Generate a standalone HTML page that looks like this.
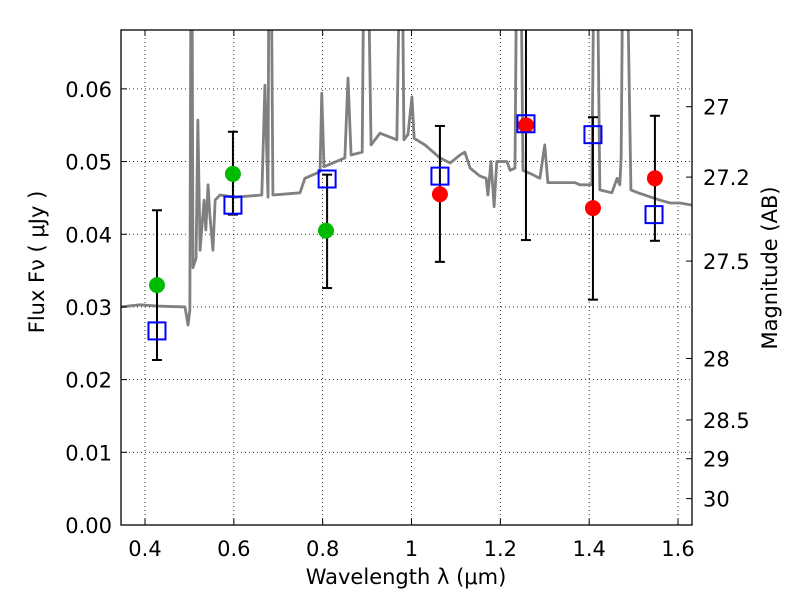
<!DOCTYPE html>
<html><head><meta charset="utf-8"><style>
body{margin:0;background:#fff;}
svg{display:block;font-family:"DejaVu Sans","Liberation Sans",sans-serif;}
</style></head><body>
<svg id="chart" width="800" height="600"></svg>
<script>
const specLam=[0.345,0.389,0.434,0.490,0.497,0.501,0.5036,0.5058,0.508,0.515,0.519,0.524,0.533,0.537,0.542,0.546,0.553,0.558,0.569,0.603,0.663,0.670,0.677,0.679,0.684,0.688,0.749,0.760,0.794,0.798,0.803,0.850,0.857,0.864,0.889,0.893,0.902,0.909,0.929,0.967,0.974,0.979,0.983,0.992,1.001,1.006,1.030,1.064,1.087,1.109,1.120,1.132,1.154,1.168,1.172,1.179,1.186,1.192,1.215,1.222,1.233,1.237,1.246,1.251,1.273,1.282,1.289,1.300,1.307,1.334,1.368,1.379,1.406,1.411,1.418,1.424,1.451,1.463,1.469,1.472,1.476,1.485,1.494,1.510,1.559,1.582,1.604,1.632];
const specFlux=[0.0300,0.0303,0.0301,0.0300,0.0275,0.0296,0.08,0.08,0.0354,0.0367,0.0557,0.0378,0.0447,0.0406,0.0468,0.0427,0.0378,0.0447,0.0454,0.0451,0.0454,0.0605,0.0451,0.08,0.08,0.0454,0.0457,0.0477,0.0486,0.0594,0.0493,0.0505,0.0615,0.0509,0.0513,0.08,0.08,0.0523,0.0539,0.0530,0.08,0.08,0.0530,0.0537,0.0589,0.0532,0.0523,0.0505,0.0498,0.0509,0.0513,0.0491,0.0480,0.0477,0.0454,0.0500,0.0438,0.0500,0.0500,0.0488,0.0491,0.08,0.08,0.0488,0.0482,0.0479,0.0477,0.0523,0.0471,0.0471,0.0471,0.0468,0.0468,0.08,0.08,0.0461,0.0457,0.0477,0.0468,0.0506,0.08,0.08,0.0461,0.0457,0.0447,0.0443,0.0443,0.0440];
const greenLam=[0.427,0.598,0.8075];
const greenFlux=[0.0330,0.0483,0.0405];
const redLam=[1.064,1.2577,1.4085,1.548];
const redFlux=[0.0455,0.0550,0.0436,0.0477];
const boxLam=[0.427,0.598,0.810,1.064,1.2577,1.4085,1.546];
const boxFlux=[0.0267,0.0440,0.0476,0.0480,0.0552,0.0537,0.0427];
const errLam=[0.427,0.598,0.810,1.064,1.2577,1.4085,1.548];
const errLo=[0.0227,0.0427,0.0326,0.0362,0.0392,0.0310,0.0391];
const errHi=[0.0433,0.0541,0.0482,0.0549,0.075,0.0561,0.0563];
const xTicks=[0.4,0.6,0.8,1.0,1.2,1.4,1.6];
const xTickLabels=["0.4","0.6","0.8","1","1.2","1.4","1.6"];
const yTicks=[0,0.01,0.02,0.03,0.04,0.05,0.06];
const yTickLabels=["0.00","0.01","0.02","0.03","0.04","0.05","0.06"];
const magTicks=[27,27.2,27.5,28,28.5,29,30];
const magTickLabels=["27","27.2","27.5","28","28.5","29","30"];

const L=121,R=692,T=30,B=525;
const xMin=0.346,xMax=1.6315,yMin=0,yMax=0.0681;
const sx=v=>L+(v-xMin)/(xMax-xMin)*(R-L);
const sy=v=>B-(v-yMin)/(yMax-yMin)*(B-T);
const magToFlux=m=>Math.pow(10,(23.9-m)/2.5);
const NS="http://www.w3.org/2000/svg";
const svg=document.getElementById('chart');
function mk(tag,attrs,parent){const e=document.createElementNS(NS,tag);for(const k in attrs)e.setAttribute(k,attrs[k]);(parent||svg).appendChild(e);return e;}

const defs=mk('defs',{});
const cp=mk('clipPath',{id:'clip'},defs);
mk('rect',{x:L,y:T,width:R-L,height:B-T},cp);

const grid=mk('g',{});


xTicks.forEach(v=>{mk('line',{x1:sx(v),x2:sx(v),y1:T,y2:B,stroke:'#000','stroke-width':0.8,'stroke-dasharray':'1,3'},grid);});
yTicks.forEach(v=>{if(v>0)mk('line',{x1:L,x2:R,y1:sy(v),y2:sy(v),stroke:'#000','stroke-width':0.8,'stroke-dasharray':'1,3'},grid);});

const g=mk('g',{'clip-path':'url(#clip)'});
const sp=mk('polyline',{points:specLam.map((l,i)=>sx(l)+','+sy(specFlux[i])).join(' '),fill:'none',stroke:'#808080','stroke-width':2.8,'stroke-linejoin':'round'},g);



errLam.forEach((l,i)=>{
  const e=mk('g',{},g);
  
  
  const x=sx(l);
  mk('line',{x1:x,x2:x,y1:sy(errLo[i]),y2:sy(errHi[i]),stroke:'#000','stroke-width':2},e);
  mk('line',{x1:x-5,x2:x+5,y1:sy(errLo[i]),y2:sy(errLo[i]),stroke:'#000','stroke-width':2},e);
  mk('line',{x1:x-5,x2:x+5,y1:sy(errHi[i]),y2:sy(errHi[i]),stroke:'#000','stroke-width':2},e);
});
greenLam.forEach((l,i)=>{
  const c=mk('circle',{cx:sx(l),cy:sy(greenFlux[i]),r:8,fill:'#00bb00'},g);
  
  
});
redLam.forEach((l,i)=>{
  const c=mk('circle',{cx:sx(l),cy:sy(redFlux[i]),r:8,fill:'#ff0000'},g);
  
  
});
boxLam.forEach((l,i)=>{
  const r=mk('rect',{x:sx(l)-8.5,y:sy(boxFlux[i])-8.5,width:17,height:17,fill:'none',stroke:'#0000ff','stroke-width':2},g);
  
  
});

const fr=mk('rect',{x:L,y:T,width:R-L,height:B-T,fill:'none',stroke:'#000','stroke-width':1.3});



xTicks.forEach((v,i)=>{
  const x=sx(v);
  mk('line',{x1:x,x2:x,y1:B,y2:B-6,stroke:'#000'});
  mk('line',{x1:x,x2:x,y1:T,y2:T+6,stroke:'#000'});
  const t=mk('text',{x:x,y:B+31,'font-size':21,'text-anchor':'middle'});
  t.textContent=xTickLabels[i];
  
  
});
yTicks.forEach((v,i)=>{
  const y=sy(v);
  mk('line',{x1:L,x2:L+6,y1:y,y2:y,stroke:'#000'});
  const t=mk('text',{x:L-9,y:y+8,'font-size':21,'text-anchor':'end'});
  t.textContent=yTickLabels[i];
  
  
});
magTicks.forEach((m,i)=>{
  const y=sy(magToFlux(m));
  mk('line',{x1:R,x2:R-6,y1:y,y2:y,stroke:'#000'});
  const t=mk('text',{x:R+11,y:y+8,'font-size':21,'text-anchor':'start'});
  t.textContent=magTickLabels[i];
  
  
});

const xt=mk('text',{x:406,y:584,'font-size':21,'text-anchor':'middle'});
xt.textContent='Wavelength  λ (μm)';


const yt=mk('text',{x:0,y:0,'font-size':21,'text-anchor':'middle',transform:'translate(44,262) rotate(-90)'});
yt.textContent='Flux  Fν  ( μJy )';


const mt=mk('text',{x:0,y:0,'font-size':21,'text-anchor':'middle',transform:'translate(777,268) rotate(-90)'});
mt.textContent='Magnitude (AB)';


</script>
</body></html>
